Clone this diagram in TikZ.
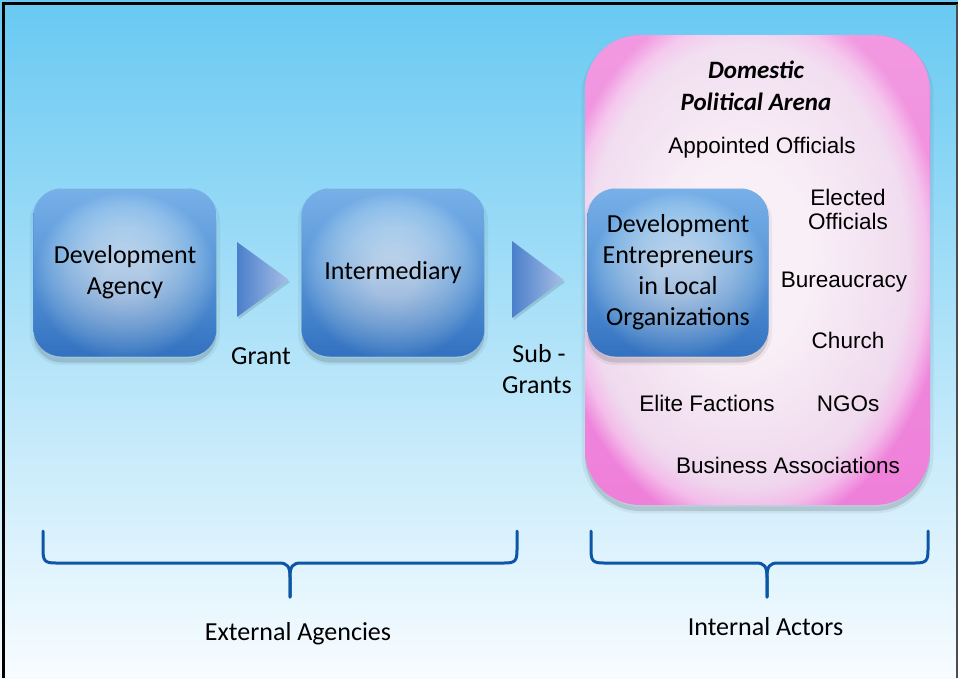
\documentclass[tikz,border=0pt]{standalone}
\usepackage{fontspec}
\setmainfont{Carlito}
\newfontfamily\arialfam{Liberation Sans}
\usetikzlibrary{fadings,shadings}
\newcommand\bxfont{\fontsize{26}{31}\selectfont}
\newcommand\arfont{\arialfam\fontsize{22.5}{25}\selectfont}
\newcommand\ttlfont{\bfseries\itshape\fontsize{25}{31}\selectfont}
\definecolor{bgtop}{HTML}{68C9F2}
\definecolor{bgmid}{HTML}{A6DCF5}
\definecolor{bgbot}{HTML}{F8FCFF}
\definecolor{bgA}{HTML}{D2E8F8}
\definecolor{bgB}{HTML}{9CCBF0}
\definecolor{bgB2}{HTML}{6AAEE8}
\definecolor{bgC}{HTML}{3F8FDF}
\definecolor{bgD}{HTML}{2A5AA8}
\definecolor{pkA}{HTML}{F9EEF6}
\definecolor{pkB}{HTML}{EFD8EE}
\definecolor{pkC}{HTML}{F3BCEA}
\definecolor{pkD}{HTML}{EF80DA}
\definecolor{triL}{HTML}{4A7FCB}
\definecolor{triR}{HTML}{A8BEE4}
\definecolor{bracec}{HTML}{0D56A6}
\pgfdeclareradialshading{blueglass}{\pgfpoint{0bp}{-2bp}}{color(0bp)=(bgA); color(6bp)=(bgA); color(15bp)=(bgB); color(21bp)=(bgB2); color(25bp)=(bgC); color(50bp)=(bgC)}
\pgfdeclareradialshading{pinkglass}{\pgfpoint{-3bp}{1bp}}{color(0bp)=(pkA); color(10bp)=(pkA); color(23.5bp)=(pkB); color(26bp)=(pkC); color(28.5bp)=(pkD); color(50bp)=(pkD)}
\tikzfading[name=fadebot, top color=transparent!100, middle color=transparent!100, bottom color=transparent!0]
\tikzfading[name=fadetop, top color=transparent!0, middle color=transparent!100, bottom color=transparent!100]
\begin{document}
\begin{tikzpicture}[x=1pt,y=-1pt,
  softshadow/.style={
    preaction={fill=black, fill opacity=0.12, transform canvas={yshift=-6pt}},
    preaction={draw=black, draw opacity=0.05, line width=7pt, transform canvas={yshift=-5pt}}},
  glass/.style={rectangle, rounded corners=28pt, softshadow, shade, shading=blueglass,
    minimum width=183pt, minimum height=168pt, inner sep=0pt, align=center, font=\bxfont,
    postaction={fill=bgD, fill opacity=0.55, path fading=fadebot},
    postaction={fill=white, fill opacity=0.30, path fading=fadetop}},
  arenabox/.style={rectangle, rounded corners=55pt, softshadow, shade, shading=pinkglass,
    minimum width=345pt, minimum height=470pt, inner sep=0pt,
    postaction={fill=white, fill opacity=0.20, path fading=fadetop}},
  tri/.style={left color=triL, right color=triR,
    preaction={fill=black, fill opacity=0.12, transform canvas={xshift=1.5pt,yshift=-2.5pt}}},
  lbl/.style={font=\bxfont, anchor=base, inner sep=0pt},
  act/.style={font=\arfont, anchor=base, inner sep=0pt},
  ttl/.style={font=\ttlfont, anchor=base, inner sep=0pt},
  brace/.style={draw=bracec, line width=3pt, line cap=round, line join=round}]
\useasboundingbox (0,0) rectangle (958,678);
% background
\shade[top color=bgtop, middle color=bgmid, bottom color=bgbot] (0,0) rectangle (958,678);
\draw[black, line width=3pt] (3.5,678) -- (3.5,3.5) -- (958,3.5);
\draw[black!70, line width=1.5pt] (957,3.5) -- (957,678);
% domestic arena
\node[arenabox] (arena) at (757.5,270) {};
% blue boxes
\node[glass] (agency) at (125,272.5) {Development\\Agency};
\node[glass] (inter) at (393,272.5) {Intermediary};
\node[glass, minimum width=181pt] (entre) at (678,272.5) {Development\\Entrepreneurs\\in Local\\Organizations};
% triangles
\shade[tri] (237,242) -- (288.5,279.5) -- (237,317) -- cycle;
\shade[tri] (512,241) -- (563.5,279.5) -- (512,318) -- cycle;
% flow labels
\node[lbl] (grant) at (261,364) {Grant};
\node[lbl] (sub) at (539,362) {Sub -};
\node[lbl] (grants) at (537,393) {Grants};
% arena texts
\node[ttl] (dom) at (756,78) {Domestic};
\node[ttl] (pol) at (756,110) {Political Arena};
\node[act] (appo) at (762,153) {Appointed Officials};
\node[act] (elec) at (848,205) {Elected};
\node[act] (offi) at (848,229) {Officials};
\node[act] (bure) at (844,287) {Bureaucracy};
\node[act] (chur) at (848,348) {Church};
\node[act] (elite) at (707,411) {Elite Factions};
\node[act] (ngo) at (848,411) {NGOs};
\node[act] (busi) at (788,473) {Business Associations};
% braces
\draw[brace] (43,531) -- (43,550) .. controls (43,561) and (45,563) .. (56,563) -- (279,563) .. controls (287,563) and (290,566) .. (290,577) -- (290,597);
\draw[brace] (517,531) -- (517,550) .. controls (517,561) and (515,563) .. (504,563) -- (301,563) .. controls (293,563) and (290,566) .. (290,577) -- (290,597);
\draw[brace] (591,531) -- (591,550) .. controls (591,561) and (593,563) .. (604,563) -- (756,563) .. controls (764,563) and (767,566) .. (767,577) -- (767,597);
\draw[brace] (928,531) -- (928,550) .. controls (928,561) and (926,563) .. (915,563) -- (778,563) .. controls (770,563) and (767,566) .. (767,577) -- (767,597);
\node[lbl] (ext) at (298,640) {External Agencies};
\node[lbl] (int) at (765.5,635) {Internal Actors};
\end{tikzpicture}
\end{document}
